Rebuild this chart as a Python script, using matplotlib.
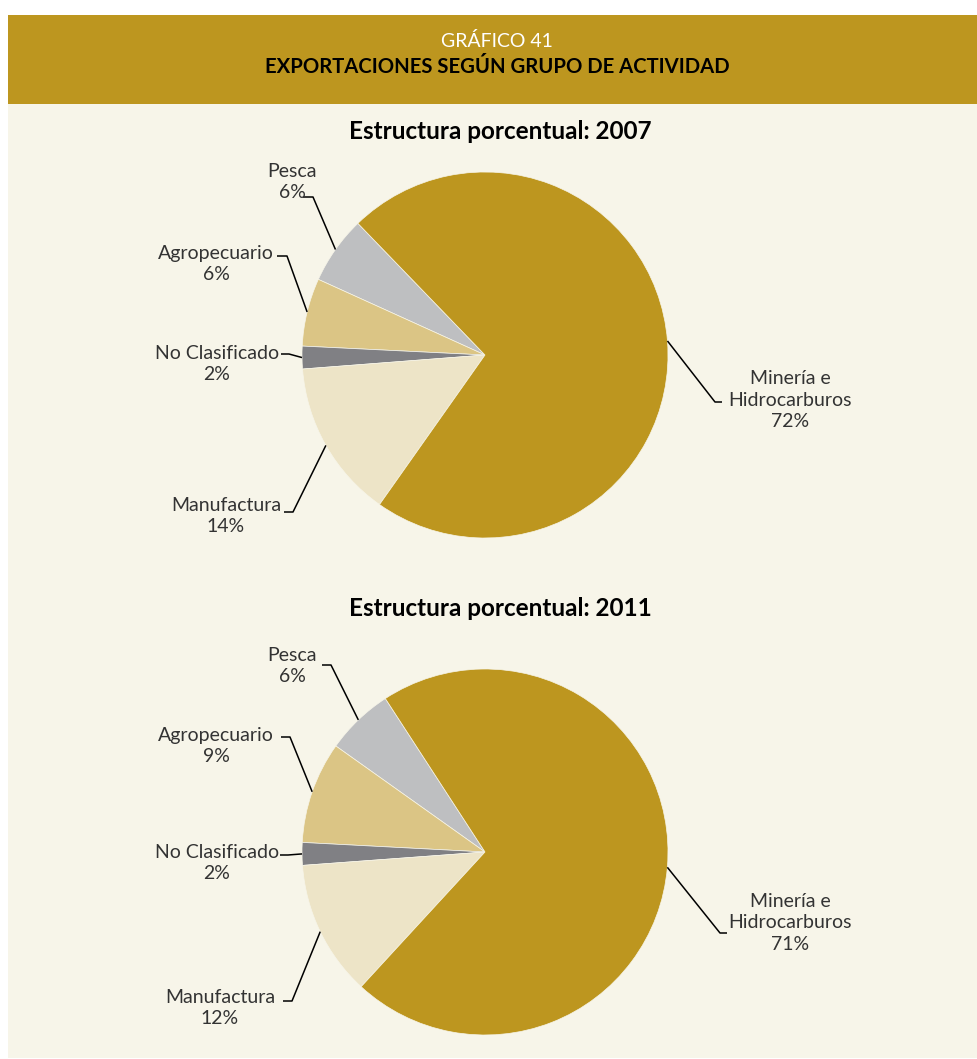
import numpy as np
import matplotlib
matplotlib.use("Agg")
import matplotlib.pyplot as plt
from matplotlib.patches import Rectangle

# --- data -------------------------------------------------------------
categories = ["Pesca", "Agropecuario", "No Clasificado", "Manufactura",
              "Minería e\nHidrocarburos"]
values_2007 = [6, 6, 2, 14, 72]
values_2011 = [6, 9, 2, 12, 71]
years = ["2007", "2011"]

colors = ["#BEBFC1", "#DBC585", "#808084", "#EDE4C7", "#BD961F"]
GOLD = "#BD961F"
CREAM = "#F7F5E9"

W, H = 978, 1059
fig = plt.figure(figsize=(W / 100, H / 100), dpi=100)
fig.patch.set_facecolor("white")
ax = fig.add_axes([0, 0, 1, 1])


def Y(y):
    """pixel row (from top) -> data y"""
    return H - y


# panel + header band
ax.add_patch(Rectangle((8, Y(1058)), W - 8, 1058 - 104, fc=CREAM, ec="none", zorder=0))
ax.add_patch(Rectangle((8, Y(104)), W - 8, 104 - 15, fc=GOLD, ec="none", zorder=0))

regular = dict(family=["Lato", "DejaVu Sans"], weight="normal")
bold = dict(family=["Lato", "DejaVu Sans"], weight="bold")
ax.text(497, Y(41), "GRÁFICO 41", ha="center", va="center", color="white",
        fontsize=14, **regular)
ax.text(497, Y(67), "EXPORTACIONES SEGÚN GRUPO DE ACTIVIDAD", ha="center",
        va="center", color="black", fontsize=14.6, **bold)

# layout of each pie: center, start angle, label anchors and leader elbows
layouts = [
    dict(cy=355, start=134, title_y=131,
         labels=[((292, 182), (303, 197), (313, 197)),
                 ((216, 264), (277, 256), (287, 256)),
                 ((217, 364), (281, 354), (289, 354)),
                 ((226, 516), (284, 512), (293, 512)),
                 ((790, 400), (722, 402), (715, 402))]),
    dict(cy=852, start=123, title_y=609,
         labels=[((292, 666), (322, 665), (331, 665)),
                 ((216, 746), (281, 737), (290, 737)),
                 ((217, 863), (280, 855), (288, 855)),
                 ((220, 1008), (283, 1001), (292, 1001)),
                 ((790, 923), (727, 933), (720, 933))]),
]

R = 183
CX = 485
for year, vals, lay in zip(years, [values_2007, values_2011], layouts):
    cy = Y(lay["cy"])
    wedges, _ = ax.pie(vals, colors=colors, startangle=lay["start"],
                       counterclock=True, radius=R, center=(CX, cy),
                       frame=True, wedgeprops=dict(linewidth=0.5, edgecolor=CREAM))
    ax.text(500, Y(lay["title_y"]), f"Estructura porcentual: {year}",
            ha="center", va="center", fontsize=17.5, color="black", **bold)
    for w, cat, v, (txt, e0, e1) in zip(wedges, categories, vals, lay["labels"]):
        mid = np.deg2rad((w.theta1 + w.theta2) / 2)
        px, py = CX + R * np.cos(mid), cy + R * np.sin(mid)
        ax.plot([e0[0], e1[0], px], [Y(e0[1]), Y(e1[1]), py], color="black",
                lw=1.1, solid_capstyle="butt", zorder=3)
        ax.text(txt[0], Y(txt[1]), f"{cat}\n{v}%", ha="center", va="center",
                fontsize=14, color="#333333", linespacing=1.3, **regular)

ax.set_xlim(0, W)
ax.set_ylim(0, H)
ax.set_aspect("equal")
ax.axis("off")
fig.savefig("out.png", dpi=100, facecolor="white")
